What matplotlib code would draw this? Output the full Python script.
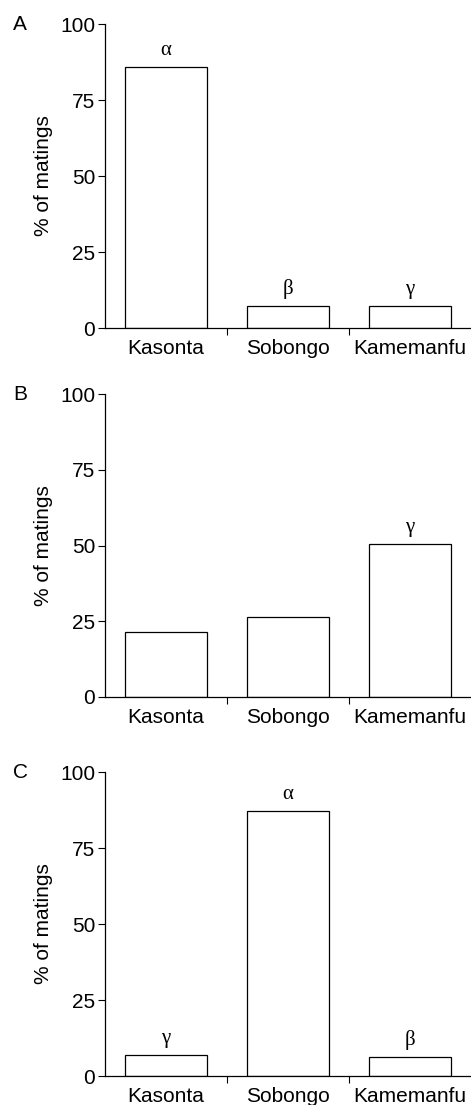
import matplotlib.pyplot as plt

# data
sites = ["Kasonta", "Sobongo", "Kamemanfu"]
pct_a = [86, 7.1, 7.1]
pct_b = [21.4, 26.5, 50.6]
pct_c = [7.0, 87.3, 6.2]
marks_a = ["α", "β", "γ"]
marks_b = ["", "", "γ"]
marks_c = ["γ", "α", "β"]
panel_letters = ["A", "B", "C"]
yticks = [0, 25, 50, 75, 100]

plt.rcParams['font.family'] = ['Liberation Sans', 'DejaVu Sans']

fig = plt.figure(figsize=(4.71, 11.05), dpi=100)
W, H = 471, 1105
# (bottom, top) of each panel in pixels from the top
boxes = [(328, 24), (697, 394), (1076, 772)]

panels = [(pct_a, marks_a), (pct_b, marks_b), (pct_c, marks_c)]
for (vals, marks), (bot, top), letter in zip(panels, boxes, panel_letters):
    ax = fig.add_axes([105 / W, 1 - bot / H, (471 - 105) / W, (bot - top) / H])
    x = list(range(len(sites)))
    bars = ax.bar(x, vals, width=0.68, color="white", edgecolor="black", linewidth=0.9)
    for b, m in zip(bars, marks):
        if m:
            ax.annotate(m, (b.get_x() + b.get_width() / 2, b.get_height()),
                        xytext=(0, 5), textcoords="offset points",
                        ha="center", va="bottom", fontsize=15,
                        family=["Liberation Serif", "DejaVu Serif"])
    ax.set_xlim(-0.5, 2.5)
    ax.set_ylim(0, 100)
    ax.set_yticks(yticks)
    ax.set_xticks(x, sites)
    ax.set_xticks([0.5, 1.5], minor=True)
    ax.tick_params(axis="x", which="major", length=0, pad=8, labelsize=15)
    ax.tick_params(axis="x", which="minor", length=5, width=0.8, direction="out")
    ax.tick_params(axis="y", length=5, width=0.8, pad=2, labelsize=15)
    ax.spines["top"].set_visible(False)
    ax.spines["right"].set_visible(False)
    ax.spines["left"].set_linewidth(0.9)
    ax.spines["bottom"].set_linewidth(0.9)
    ax.set_ylabel("% of matings", fontsize=15, labelpad=5)
    fig.text(20 / W, 1 - top / H, letter, fontsize=15, ha="center", va="center")

fig.savefig("out.png", dpi=100)
